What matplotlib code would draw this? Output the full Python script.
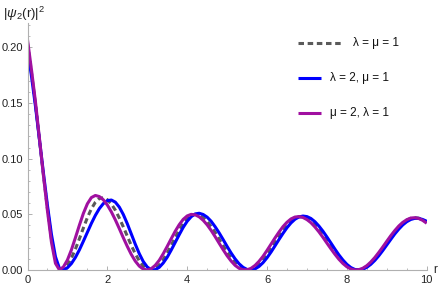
import numpy as np
import matplotlib
matplotlib.use("Agg")
import matplotlib.pyplot as plt
from matplotlib.ticker import MultipleLocator, FormatStrFormatter

plt.rcParams['font.family'] = ['Liberation Sans', 'DejaVu Sans']
plt.rcParams['mathtext.fontset'] = 'custom'
plt.rcParams['mathtext.rm'] = 'Liberation Sans'
plt.rcParams['mathtext.it'] = 'Liberation Sans:italic'

# sample step of the radial coordinate r
r_step = 0.1

# |psi_2(r)|^2, r = 0, 0.1, ..., 10
psi_equal = [
    0.204, 0.177, 0.149, 0.117, 0.085, 0.055, 0.028, 0.009, 0.0003,
    0.0009, 0.0046, 0.0107, 0.0188, 0.0281, 0.0378, 0.0471, 0.0550, 0.0609, 0.0643,
    0.0649, 0.0632, 0.0594, 0.0538, 0.0467, 0.0388, 0.0304, 0.0221, 0.0146, 0.0082, 0.0035, 0.0007,
    0.0000, 0.0014, 0.0046, 0.0094, 0.0154, 0.0222, 0.0292, 0.0359, 0.0417, 0.0462, 0.0490, 0.0500,
    0.0493, 0.0471, 0.0437, 0.0392, 0.0339, 0.0280, 0.0220, 0.0161, 0.0108, 0.0063, 0.0029, 0.0007, 0.0000,
    0.0006, 0.0025, 0.0056, 0.0097, 0.0145, 0.0198, 0.0254, 0.0309, 0.0360, 0.0405, 0.0440, 0.0466, 0.0478,
    0.0479, 0.0467, 0.0444, 0.0411, 0.0369, 0.0321, 0.0269, 0.0216, 0.0164, 0.0115, 0.0073, 0.0039, 0.0015, 0.0002,
    0.0001, 0.0011, 0.0031, 0.0062, 0.0100, 0.0145, 0.0194, 0.0245, 0.0296, 0.0343, 0.0386, 0.0421, 0.0448, 0.0464, 0.0470,
    0.0466, 0.0452, 0.0430,
]

psi_lambda2 = [
    0.200, 0.174, 0.147, 0.117, 0.087, 0.058, 0.032, 0.012, 0.0015,
    0.0002, 0.0020, 0.0058, 0.0113, 0.0181, 0.0259, 0.0339, 0.0419, 0.0491, 0.0552, 0.0597, 0.0623,
    0.0629, 0.0610, 0.0565, 0.0499, 0.0416, 0.0324, 0.0232, 0.0147, 0.0076, 0.0027, 0.0002,
    0.0003, 0.0024, 0.0063, 0.0115, 0.0179, 0.0248, 0.0317, 0.0383, 0.0438, 0.0479, 0.0504,
    0.0510, 0.0499, 0.0475, 0.0438, 0.0389, 0.0334, 0.0274, 0.0212, 0.0153, 0.0100, 0.0056, 0.0024, 0.0005,
    0.0000, 0.0010, 0.0032, 0.0066, 0.0110, 0.0161, 0.0217, 0.0274, 0.0329, 0.0380, 0.0423, 0.0456, 0.0477, 0.0485,
    0.0480, 0.0463, 0.0434, 0.0395, 0.0349, 0.0297, 0.0243, 0.0188, 0.0136, 0.0090, 0.0051, 0.0022, 0.0005,
    0.0000, 0.0007, 0.0024, 0.0051, 0.0086, 0.0128, 0.0175, 0.0225, 0.0275, 0.0324, 0.0367, 0.0405, 0.0434, 0.0454, 0.0464,
    0.0464, 0.0454, 0.0438,
]

psi_mu2 = [
    0.207, 0.180, 0.151, 0.118, 0.085, 0.053, 0.025, 0.006,
    0.0001, 0.0028, 0.0090, 0.0181, 0.0290, 0.0403, 0.0509, 0.0595, 0.0651, 0.0670,
    0.0660, 0.0631, 0.0584, 0.0523, 0.0451, 0.0372, 0.0290, 0.0212, 0.0140, 0.0080, 0.0035, 0.0008,
    0.0000, 0.0012, 0.0042, 0.0087, 0.0146, 0.0212, 0.0281, 0.0348, 0.0407, 0.0455, 0.0486, 0.0500,
    0.0496, 0.0478, 0.0447, 0.0406, 0.0356, 0.0300, 0.0241, 0.0183, 0.0128, 0.0081, 0.0042, 0.0015, 0.0002,
    0.0002, 0.0015, 0.0041, 0.0078, 0.0123, 0.0176, 0.0232, 0.0288, 0.0341, 0.0390, 0.0429, 0.0459, 0.0476,
    0.0480, 0.0472, 0.0453, 0.0425, 0.0387, 0.0343, 0.0294, 0.0242, 0.0191, 0.0142, 0.0097, 0.0059, 0.0029, 0.0009, 0.0000,
    0.0003, 0.0016, 0.0039, 0.0072, 0.0112, 0.0158, 0.0207, 0.0258, 0.0308, 0.0354, 0.0395, 0.0428, 0.0452, 0.0467,
    0.0470, 0.0463, 0.0446, 0.0420,
]

labels = ["\u03bb = \u03bc = 1", "\u03bb = 2, \u03bc = 1", "\u03bc = 2, \u03bb = 1"]
colors = ["#5a5a5a", "#0000ff", "#a010a0"]
styles = [(0, (1.8, 1.2)), "-", "-"]

x_ticks = [0, 2, 4, 6, 8, 10]
y_ticks = [0.00, 0.05, 0.10, 0.15, 0.20]

W, H = 442, 290
fig = plt.figure(figsize=(W / 100, H / 100), dpi=100)
x0, x1 = 27.5, 426.7
y0, y1 = 270.0, 23.0
ax = fig.add_axes([x0 / W, 1 - y0 / H, (x1 - x0) / W, (y0 - y1) / H])

series = [psi_equal, psi_lambda2, psi_mu2]
for vals, c, ls in zip(series, colors, styles):
    r = np.arange(len(vals)) * r_step
    ax.plot(r, vals, color=c, linestyle=ls, lw=2.2, solid_capstyle='butt')

ax.set_xlim(0, 10)
ax.set_ylim(0, 0.222)
ax.set_xticks(x_ticks)
ax.set_yticks(y_ticks)
ax.yaxis.set_major_formatter(FormatStrFormatter('%.2f'))
ax.xaxis.set_minor_locator(MultipleLocator(0.5))
ax.yaxis.set_minor_locator(MultipleLocator(0.01))
for s in ['top', 'right']:
    ax.spines[s].set_visible(False)
axis_col = '#b0b0b0'
for s in ['left', 'bottom']:
    ax.spines[s].set_color(axis_col)
    ax.spines[s].set_linewidth(0.8)
ax.tick_params(which='major', direction='in', length=3.0, width=0.7, color=axis_col,
               labelsize=8, labelcolor='#222222')
ax.tick_params(which='minor', direction='in', length=1.6, width=0.6, color=axis_col)
ax.tick_params(axis='y', pad=3.2)
ax.tick_params(axis='x', pad=3.5)
ax.patch.set_alpha(0)

# overlay in pixel coordinates for labels and legend
ov = fig.add_axes([0, 0, 1, 1])
ov.set_xlim(0, W)
ov.set_ylim(H, 0)
ov.axis('off')
ov.patch.set_alpha(0)

ov.text(3, 18, r'$|\psi_{2}(\mathrm{r})|^{2}$', fontsize=9.5, color='#222222', va='baseline', ha='left')
ov.text(433, 270, 'r', fontsize=8.5, color='#222222', va='center', ha='left')

leg_rows = [42.7, 78.3, 113.3]
leg_x = [(298, 343, 352.7), (298, 321, 330), (298, 321, 330)]
for (xa, xb, xt), yy, lab, c, ls in zip(leg_x, leg_rows, labels, colors, styles):
    ov.plot([xa, xb], [yy, yy], color=c, linestyle=ls, lw=2.2, solid_capstyle='butt')
    ov.text(xt, yy, lab, fontsize=8.5, color='#111111', va='center', ha='left')

fig.savefig('out.png', dpi=100)
